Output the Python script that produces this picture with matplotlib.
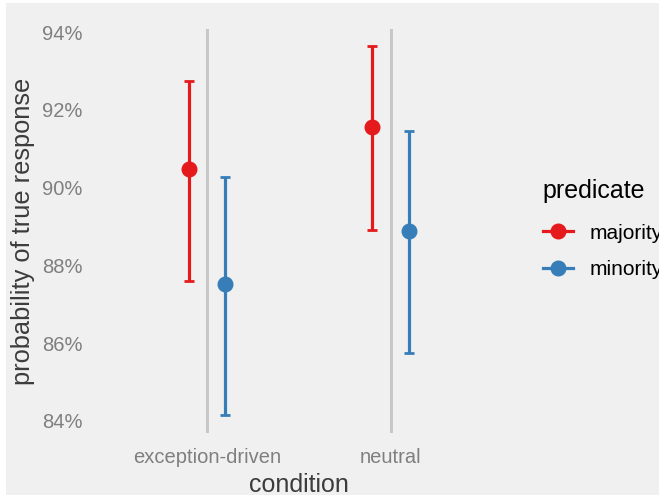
import matplotlib
matplotlib.use("Agg")
import matplotlib.pyplot as plt
from matplotlib.lines import Line2D
from matplotlib.patches import Rectangle
from matplotlib.ticker import FuncFormatter

conditions = ["exception-driven", "neutral"]
predicates = ["majority", "minority"]
colors = {"majority": "#E41A1C", "minority": "#377EB8"}
means = {"majority": [90.48, 91.56], "minority": [87.52, 88.88]}
lower = {"majority": [87.60, 88.91], "minority": [84.15, 85.75]}
upper = {"majority": [92.74, 93.64], "minority": [90.27, 91.45]}
yticks = [84, 86, 88, 90, 92, 94]

W, H = 659, 496
fig = plt.figure(figsize=(W / 100, H / 100), dpi=100, facecolor="white")
bg = "#F0F0F0"
fig.patches.append(Rectangle((6 / W, 1 / H), 1 - 6 / W, 1 - 4 / H,
                             transform=fig.transFigure, facecolor=bg,
                             edgecolor="none", zorder=-5))

left, right, top, bottom = 96.6, 501, 29, 433
ax = fig.add_axes([left / W, 1 - bottom / H, (right - left) / W, (bottom - top) / H])
ax.set_zorder(1)
ax.patch.set_visible(False)
for s in ax.spines.values():
    s.set_visible(False)

xpos = list(range(1, len(conditions) + 1))
dodge = {"majority": -0.1, "minority": 0.1}
for p in predicates:
    xs = [x + dodge[p] for x in xpos]
    m = means[p]
    yerr = [[m[i] - lower[p][i] for i in range(len(m))],
            [upper[p][i] - m[i] for i in range(len(m))]]
    ax.errorbar(xs, m, yerr=yerr, fmt="o", color=colors[p], ecolor=colors[p],
                elinewidth=2.3, capsize=3.6, capthick=2.0, markersize=10.5,
                zorder=3)

ax.set_xlim(0.4, 2.6)
ax.set_ylim(83.69, 94.08)
ax.set_xticks(xpos)
ax.set_xticklabels(conditions)
ax.set_yticks(yticks)
ax.yaxis.set_major_formatter(FuncFormatter(lambda v, _: f"{v:.0f}%"))
ax.grid(axis="x", color="#C6C6C6", linewidth=2.1, zorder=1)
ax.grid(axis="y", visible=False)
ax.tick_params(axis="x", length=0, labelsize=14.5, labelcolor="#7F7F7F", pad=11)
ax.tick_params(axis="y", length=0, labelsize=14.5, labelcolor="#7F7F7F", pad=10)
for lab in ax.get_xticklabels() + ax.get_yticklabels():
    lab.set_family("Liberation Sans")
ax.set_xlabel("condition", fontsize=18, color="#3C3C3C", family="Liberation Sans", labelpad=4)
ax.set_ylabel("probability of true response", fontsize=18.3, color="#3C3C3C",
              family="Liberation Sans", labelpad=5)

handles = [Line2D([0], [0], color=colors[p], marker="o", markersize=10.5, linewidth=2.3)
           for p in predicates]
leg = fig.legend(handles, predicates, title="predicate", loc="upper left",
                 bbox_to_anchor=(524 / W, 1 - 160 / H), frameon=False,
                 prop={"family": "Liberation Sans", "size": 15},
                 title_fontproperties={"family": "Liberation Sans", "size": 18},
                 handlelength=1.45, handletextpad=0.8, labelspacing=0.85)
leg._legend_box.align = "left"
leg._legend_box.sep = 15

fig.savefig("out.png", dpi=100, facecolor="white")
